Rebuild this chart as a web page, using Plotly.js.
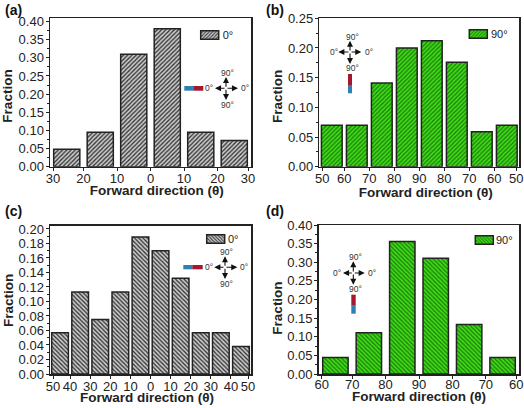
<!DOCTYPE html>
<html><head><meta charset="utf-8">
<script src="https://cdn.plot.ly/plotly-3.0.1.min.js"></script>
<style>html,body{margin:0;padding:0;background:#fff}#g{width:524px;height:408px}</style>
</head><body><div id="g"></div>
<script>
// Data
const valuesA = [0.048, 0.095, 0.31, 0.38, 0.095, 0.072];
const valuesB = [0.07, 0.07, 0.141, 0.2, 0.212, 0.176, 0.059, 0.07];
const valuesC = [0.057, 0.113, 0.075, 0.113, 0.189, 0.17, 0.132, 0.057, 0.057, 0.038];
const valuesD = [0.044, 0.111, 0.356, 0.311, 0.133, 0.044];
const ticksA = ['30','20','10','0','10','20','30'];
const ticksB = ['50','60','70','80','90','80','70','60','50'];
const ticksC = ['50','40','30','20','10','0','10','20','30','40','50'];
const ticksD = ['60','70','80','90','80','70','60'];

const W = 524, H = 408, INK = '#222';
const FONT = 'Liberation Sans';
const px = x => x / W, py = y => 1 - y / H;

const panels = [
 {tag:'(a)', tagAt:[13,10], vals:valuesA, ticks:ticksA, name:'0°', box:[50,251,18.3,166.7], top:0.409, dt:0.05, width:0.78,
  shape:'/', bg:'#c9c9c9', fg:'#2c2c2c', leg:[200.7,35], legText:221.7, xTitle:[156.7,190.7], yTitle:[7,96], tickOff:-4,
  compass:{c:[226,88.3], h:[215,238], v:[77,100], lx:[209.3,245], ly:[73.3,105], tx:227.7},
  stick:{blue:[184.3,86,193.3,90.7], red:[193.3,86,203.3,90.7]}},
 {tag:'(b)', tagAt:[274.5,10], vals:valuesB, ticks:ticksB, name:'90°', box:[319.3,519.3,18.3,166.7], top:0.25, dt:0.05, width:0.83,
  shape:'/', bg:'#3fdc14', fg:'#1c7a10', leg:[469.3,34], legText:490, xTitle:[425.8,192.7], yTitle:[277.5,96.3], tickOff:-4,
  compass:{c:[350,52], h:[338.3,361.3], v:[40.7,64], lx:[333.7,368.7], ly:[36.7,68.3], tx:352},
  stick:{red:[348,74,352,85], blue:[348,85,352,93.3]}},
 {tag:'(c)', tagAt:[13,211], vals:valuesC, ticks:ticksC, name:'0°', box:[50,251,225.7,374], top:0.2045, dt:0.02, width:0.83,
  shape:'\\', bg:'#c9c9c9', fg:'#2c2c2c', leg:[206.7,239], legText:227, xTitle:[147,398], yTitle:[9,300.3], tickOff:-3,
  compass:{c:[225,267.3], h:[214.3,237.3], v:[256.3,279], lx:[209,244], ly:[251.7,284], tx:226.7},
  stick:{blue:[183.3,265,192.3,269.3], red:[192.3,265,202.7,269.3]}},
 {tag:'(d)', tagAt:[274.5,211], vals:valuesD, ticks:ticksD, name:'90°', box:[318.7,519.3,225,374], top:0.40, dt:0.05, width:0.76,
  shape:'\\', bg:'#3fdc14', fg:'#1c7a10', leg:[475.3,240], legText:495, xTitle:[419,396.7], yTitle:[277.5,308], tickOff:-5,
  compass:{c:[353.3,273], h:[343,364.7], v:[261.3,284.7], lx:[337.3,372], ly:[257.3,289.3], tx:355},
  stick:{red:[351.3,294.7,355.7,305.7], blue:[351.3,305.7,355.7,313.7]}}
];

const traces = [], shapes = [], annotations = [];
const layout = {width:W, height:H, margin:{l:0,r:0,t:0,b:0}, paper_bgcolor:'#fff', plot_bgcolor:'#fff',
  font:{family:FONT, color:INK}, bargap:0};

panels.forEach((p, i) => {
  const n = i + 1, sfx = n === 1 ? '' : n;
  const [l, r, t, b] = p.box;
  const count = p.vals.length;
  traces.push({type:'bar', xaxis:'x'+sfx, yaxis:'y'+sfx, name:p.name, legend: n === 1 ? 'legend' : 'legend'+n,
    x:p.vals.map((_, k) => k + 0.5), y:p.vals, width:p.width, showlegend:true,
    marker:{color:p.bg, line:{color:INK, width:1.5},
      pattern:{shape:p.shape, bgcolor:p.bg, fgcolor:p.fg, size:3, solidity:0.4, fillmode:'replace'}}});

  // nudge the two outer labels inwards, as in the reference
  const nudge = 3 * count / (r - l);
  const tickvals = p.ticks.map((_, k) => k === 0 ? nudge : k === count ? count - nudge : k);
  layout['xaxis'+sfx] = {domain:[px(l), px(r)], range:[0, count], anchor:'y'+sfx, fixedrange:true,
    tickmode:'array', tickvals:tickvals, ticktext:p.ticks, ticks:'outside', ticklen:3, tickwidth:1, tickcolor:INK,
    ticklabelstandoff:p.tickOff,
    tickfont:{size:13, family:FONT, color:INK}, showgrid:false, zeroline:false,
    showline:true, linecolor:INK, linewidth:1.5, mirror:true, tickangle:0,
    title:{text:'Forward direction (θ)', font:{size:13.5, family:FONT, color:INK, weight:700}, standoff:1}};
  layout['yaxis'+sfx] = {domain:[py(b), py(t)], range:[0, p.top], anchor:'x'+sfx, fixedrange:true,
    tickmode:'linear', tick0:0, dtick:p.dt, tickformat:'.2f', ticks:'outside', ticklen:3, tickwidth:1, tickcolor:INK,
    ticklabelstandoff:-1,
    minor:{ticks:'outside', ticklen:2, tickwidth:1, tickcolor:INK, dtick:p.dt/2, tick0:0, showgrid:false},
    tickfont:{size:13, family:FONT, color:INK}, showgrid:false, zeroline:false,
    showline:true, linecolor:INK, linewidth:1.5, mirror:true,
    title:{text:'Fraction', font:{size:13.5, family:FONT, color:INK, weight:700}, standoff:2}};
  // the legend is placed by its label; the swatch is pulled next to it afterwards
  layout[n === 1 ? 'legend' : 'legend'+n] = {x:px(p.legText - 39), y:py(p.leg[1]), xanchor:'left', yanchor:'middle',
    bgcolor:'rgba(0,0,0,0)', borderwidth:0, font:{size:11, family:FONT, color:INK}, itemclick:false, itemdoubleclick:false};

  annotations.push({xref:'paper', yref:'paper', x:px(p.tagAt[0]), y:py(p.tagAt[1]), text:'<b>'+p.tag+'</b>', showarrow:false,
    font:{size:14, family:FONT, color:'#111'}, xanchor:'center', yanchor:'middle'});

  // compass arrows
  const c = p.compass, arrow = (hx, hy) => ({xref:'paper', yref:'paper', x:px(hx), y:py(hy),
    axref:'pixel', ayref:'pixel', ax:c.c[0]-hx, ay:c.c[1]-hy, text:'', showarrow:true, arrowhead:2, arrowsize:1.1, arrowwidth:1.1, arrowcolor:'#111'});
  annotations.push(arrow(c.h[0], c.c[1]), arrow(c.h[1], c.c[1]), arrow(c.c[0], c.v[0]), arrow(c.c[0], c.v[1]));
  const label = (x, y, s) => ({xref:'paper', yref:'paper', x:px(x), y:py(y), text:s, showarrow:false,
    font:{size:8.5, family:FONT, color:'#333'}, xanchor:'center', yanchor:'middle'});
  annotations.push(label(c.lx[0], c.c[1], '0°'), label(c.lx[1], c.c[1], '0°'), label(c.tx, c.ly[0], '90°'), label(c.tx, c.ly[1], '90°'));

  // two-colour rod
  const rect = (q, col) => ({type:'rect', xref:'paper', yref:'paper', x0:px(q[0]), x1:px(q[2]), y0:py(q[3]), y1:py(q[1]),
    fillcolor:col, line:{width:0}, layer:'above'});
  shapes.push(rect(p.stick.blue, '#2f7fb5'), rect(p.stick.red, '#a3182c'));
});
layout.shapes = shapes;
layout.annotations = annotations;

// move a text so that its box centre lands on the given page position
function centreOn(el, cx, cy) {
  const base = el.dataset.base ?? (el.getAttribute('transform') || '');
  el.dataset.base = base;
  el.setAttribute('transform', base);
  const rc = el.getBoundingClientRect();
  const dx = cx - (rc.left + rc.right) / 2, dy = cy - (rc.top + rc.bottom) / 2;
  el.setAttribute('transform', 'translate(' + dx + ',' + dy + ') ' + base);
}

Plotly.newPlot('g', traces, layout, {staticPlot:true, displayModeBar:false}).then(gd => {
  const polish = () => {
    // wide, short legend swatches placed where the reference has them
    gd.querySelectorAll('.legendpoints path').forEach(el => {
      el.setAttribute('d', 'M9,4.3H-9V-4.3H9Z');
      const rc = el.getBoundingClientRect();
      const cx = (rc.left + rc.right) / 2, cy = (rc.top + rc.bottom) / 2;
      let best = panels[0], bestD = Infinity;
      panels.forEach(p => {
        const d = Math.hypot(cx - p.leg[0], cy - p.leg[1]);
        if (d < bestD) { bestD = d; best = p; }
      });
      const dx = best.leg[0] + 9 - cx;
      el.setAttribute('d', 'M' + (9 + dx) + ',4.3H' + (-9 + dx) + 'V-4.3H' + (9 + dx) + 'Z');
    });
    panels.forEach((p, i) => {
      const s = i ? i + 1 : '';
      // axis titles sit a little off the plot centre in the reference
      const tx = gd.querySelector('.g-x' + s + 'title text');
      if (tx) centreOn(tx, p.xTitle[0], p.xTitle[1]);
      const ty = gd.querySelector('.g-y' + s + 'title text');
      if (ty) centreOn(ty, p.yTitle[0], p.yTitle[1]);
    });
  };
  // the legends are laid out a moment after the plot promise resolves
  polish();
  let runs = 0;
  const timer = setInterval(() => { polish(); if (++runs > 60) clearInterval(timer); }, 15);
});
</script></body></html>
